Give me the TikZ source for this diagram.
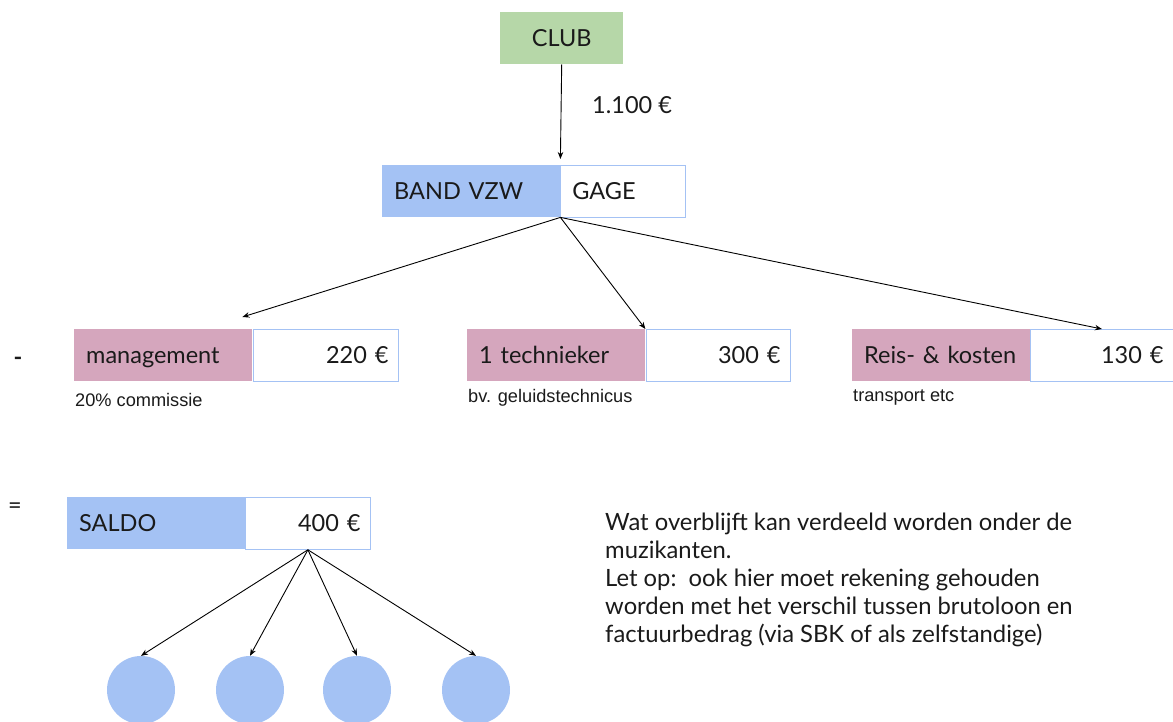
\documentclass[tikz,border=0pt]{standalone}
\usepackage{fontspec}
\setmainfont{Lato}
\newfontfamily\smallfont{Liberation Sans}
\usetikzlibrary{arrows.meta,calc}
\definecolor{clubgreen}{HTML}{B6D7A8}
\definecolor{bandblue}{HTML}{A4C2F4}
\definecolor{costpink}{HTML}{D5A6BD}
\definecolor{txt}{HTML}{1A1A1A}
\begin{document}
\begin{tikzpicture}[x=1pt,y=-1pt,
  mainf/.style={font=\fontsize{23.5}{28}\selectfont, text=txt},
  boxtext/.style={mainf, text height=20pt, text depth=3pt},
  lbl/.style={boxtext, anchor=north west, minimum height=52pt, inner xsep=12pt, inner ysep=0pt, text width=154pt, align=left},
  val/.style={boxtext, anchor=north west, draw=bandblue, line width=0.8pt, fill=white, minimum height=52pt, inner xsep=10pt, inner ysep=0pt, align=right},
  note/.style={anchor=west, font=\smallfont\fontsize{18.2}{20}\selectfont, text=txt, inner sep=0pt},
  arr/.style={-{Stealth[length=7pt,width=5.5pt]}, line width=0.9pt, black},
  member/.style={circle, fill=bandblue, minimum size=68pt, inner sep=0pt}
]
\useasboundingbox (0,0) rectangle (1173,722);

% CLUB
\node[boxtext, fill=clubgreen, minimum width=123pt, minimum height=52pt, inner sep=0pt, anchor=north west] (club) at (500,12) {CLUB};

% BAND VZW / GAGE
\node[lbl, fill=bandblue, text width=154pt] (band) at (382,165) {BAND VZW};
\node[val, text width=101pt, align=left, inner xsep=12pt] (gage) at (560,165) {GAGE};

\draw[arr] (club.south) -- ([yshift=6pt]band.north east);
\node[mainf, anchor=west, inner sep=0pt] (amount) at (592,105) {1.100 €};

% costs
\node[lbl, fill=costpink] (mgmt) at (74,329) {management};
\node[val, text width=125pt] (mgmtv) at (253,329) {220 €};
\node[note] (mgmtn) at (75,400) {20\% commissie};

\node[lbl, fill=costpink] (tech) at (467,329) {1 technieker};
\node[val, text width=124pt] (techv) at (646,329) {300 €};
\node[note] (techn) at (468,398) {bv. geluidstechnicus};

\node[lbl, fill=costpink] (reis) at (852,329) {Reis- \& kosten};
\node[val, text width=123pt] (reisv) at (1030,329) {130 €};
\node[note] (reisn) at (853,398) {transport etc};

\draw[arr] (band.south east) -- ([xshift=-10pt,yshift=12pt]mgmt.north east);
\draw[arr] (band.south east) -- (tech.north east);
\draw[arr] (band.south east) -- (reisv.north);

% signs
\node[mainf, anchor=center, inner sep=0pt] (minus) at (18,361) {\textbf{-}};
\node[mainf, anchor=center, inner sep=0pt] (equals) at (15,508) {=};

% SALDO
\node[lbl, fill=bandblue] (saldo) at (67,497) {SALDO};
\node[val, text width=105pt] (saldov) at (245,497) {400 €};

% members
\node[member] (m1) at (141,690) {};
\node[member] (m2) at (250,690) {};
\node[member] (m3) at (357,690) {};
\node[member] (m4) at (476,690) {};

\draw[arr] (saldov.south) -- (m1.north);
\draw[arr] (saldov.south) -- (m2.north);
\draw[arr] (saldov.south) -- (m3.north);
\draw[arr] (saldov.south) -- (m4.north);

% explanation
\node[mainf, anchor=north west, inner sep=0pt, align=left, font=\fontsize{23.8}{28}\selectfont] (expl) at (605,513) {Wat overblijft kan verdeeld worden onder de\\muzikanten.\\Let op:\ \ ook hier moet rekening gehouden\\worden met het verschil tussen brutoloon en\\factuurbedrag (via SBK of als zelfstandige)};
\end{tikzpicture}
\end{document}
